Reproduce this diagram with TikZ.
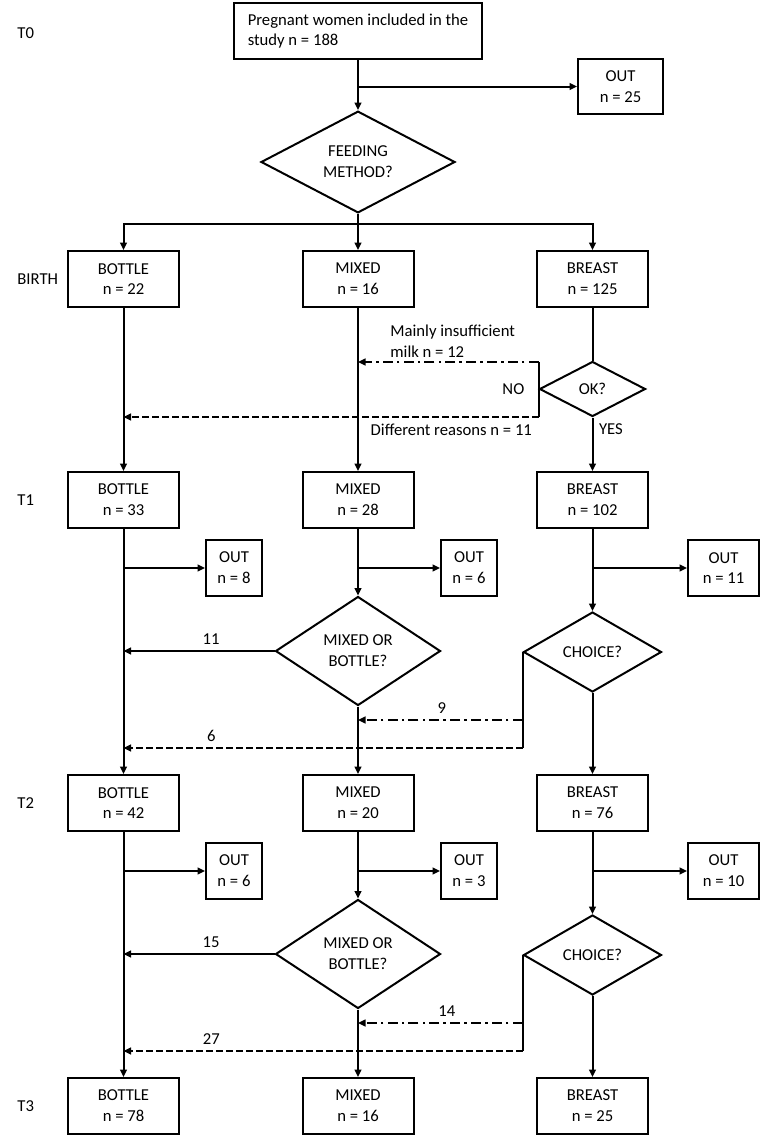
\documentclass[tikz,border=0pt]{standalone}
\usepackage{fontspec}
\setmainfont{Carlito}
\usetikzlibrary{shapes.geometric, arrows.meta, positioning}

\begin{document}
\begin{tikzpicture}[
    x=0.6pt, y=-0.6pt,
    font=\fontsize{10}{12.5}\selectfont,
    box/.style={draw, rectangle, minimum width=66.6pt, minimum height=33.6pt, line width=1.2pt, align=center, inner sep=0pt},
    outbox/.style={box, minimum width=33.6pt},
    widebox/.style={box, minimum width=42.6pt},
    decision/.style={draw, diamond, line width=1.2pt, align=center, inner sep=0pt},
    conn/.style={line width=1.2pt},
    arrow/.style={conn, -{Triangle[length=4.5pt, width=4pt]}},
    dashdotarrow/.style={arrow, dash pattern=on 6pt off 2.5pt on 1.5pt off 2.5pt},
    dasharrow/.style={arrow, dash pattern=on 4pt off 2pt}
]
\useasboundingbox (0,0) rectangle (762,1138);

% time points
\node[anchor=west] (t0) at (11.5,33) {T0};
\node[anchor=west] (tbirth) at (11.5,279) {BIRTH};
\node[anchor=west] (t1) at (11.5,500) {T1};
\node[anchor=west] (t2) at (11.5,803) {T2};
\node[anchor=west] (t3) at (11.5,1106) {T3};

% T0
\node[box, align=left, minimum width=148.8pt] (start) at (358,31) {Pregnant women included in the\\study n = 188};
\node[box, minimum width=51pt, minimum height=33pt] (out0) at (620.5,86.5) {OUT\\n = 25};
\node[decision, minimum width=116.4pt, minimum height=57.6pt] (feed) at (358,162) {FEEDING\\METHOD?};
\coordinate (split) at (358,224);

% birth
\node[box] (bot0) at (123.5,279) {BOTTLE\\n = 22};
\node[box] (mix0) at (358,279) {MIXED\\n = 16};
\node[box] (bre0) at (592.5,279) {BREAST\\n = 125};
\node[decision, minimum width=63.6pt, minimum height=33pt] (ok) at (592.5,389) {OK?};
\node[left=5pt of ok] (no) {NO};
\node[anchor=west, align=left] (lowmilk) at (384.5,341) {Mainly insufficient\\milk n = 12};

% T1
\node[box] (bot1) at (123.5,500) {BOTTLE\\n = 33};
\node[box] (mix1) at (358,500) {MIXED\\n = 28};
\node[box] (bre1) at (592.5,500) {BREAST\\n = 102};
\node[outbox] (out1a) at (234,568) {OUT\\n = 8};
\node[outbox] (out1b) at (469,568) {OUT\\n = 6};
\node[widebox] (out1c) at (723.5,568) {OUT\\n = 11};
\node[decision, minimum width=99pt, minimum height=65.4pt] (dec1) at (358,651) {MIXED OR\\BOTTLE?};
\node[decision, minimum width=82.8pt, minimum height=48pt] (ch1) at (592.5,652) {CHOICE?};

% T2
\node[box] (bot2) at (123.5,803) {BOTTLE\\n = 42};
\node[box] (mix2) at (358,803) {MIXED\\n = 20};
\node[box] (bre2) at (592.5,803) {BREAST\\n = 76};
\node[outbox] (out2a) at (234,871) {OUT\\n = 6};
\node[outbox] (out2b) at (469,871) {OUT\\n = 3};
\node[widebox] (out2c) at (723.5,871) {OUT\\n = 10};
\node[decision, minimum width=99pt, minimum height=65.4pt] (dec2) at (358,954) {MIXED OR\\BOTTLE?};
\node[decision, minimum width=82.8pt, minimum height=48pt] (ch2) at (592.5,955) {CHOICE?};

% T3
\node[box] (bot3) at (123.5,1106) {BOTTLE\\n = 78};
\node[box] (mix3) at (358,1106) {MIXED\\n = 16};
\node[box] (bre3) at (592.5,1106) {BREAST\\n = 25};

% T0 -> birth
\draw[arrow] (start) -- (feed);
\draw[arrow] (start.south |- out0) -- (out0);
\draw[arrow] (feed) -- (mix0);
\draw[arrow] (split) -| (bot0);
\draw[arrow] (split) -| (bre0);

% birth -> T1
\draw[arrow] (bot0) -- (bot1);
\draw[arrow] (mix0) -- (mix1);
\draw[conn] (bre0) -- (ok);
\draw[arrow] (ok) -- node[below right, pos=0] (yes) {YES} (bre1);
\path (ok.west) ++(0,-27) coordinate (noup) ++(0,55) coordinate (nodown);
\draw[conn] (noup) -- (nodown);
\draw[dashdotarrow] (noup) -- (noup -| mix0);
\draw[dasharrow] (nodown) -- node[below left, pos=0] (reasons) {Different reasons n = 11} (nodown -| bot0);

% T1 -> T2
\draw[arrow] (bot1) -- (bot2);
\draw[arrow] (bot1.south |- out1a) -- (out1a);
\draw[arrow] (mix1) -- (dec1);
\draw[arrow] (mix1.south |- out1b) -- (out1b);
\draw[arrow] (dec1) -- (mix2);
\draw[arrow] (dec1.west) -- node[above, pos=0.42] (n11) {11} (dec1.west -| bot1);
\draw[arrow] (bre1) -- (ch1);
\draw[arrow] (bre1.south |- out1c) -- (out1c);
\draw[arrow] (ch1) -- (bre2);
\path (ch1.west) ++(0,68) coordinate (ch1mid) ++(0,28) coordinate (ch1low);
\draw[conn] (ch1.west) -- (ch1low);
\draw[dashdotarrow] (ch1mid) -- node[above, pos=0.49] (n9) {9} (ch1mid -| mix1);
\draw[dasharrow] (ch1low) -- node[above, pos=0.78] (n6) {6} (ch1low -| bot1);

% T2 -> T3
\draw[arrow] (bot2) -- (bot3);
\draw[arrow] (bot2.south |- out2a) -- (out2a);
\draw[arrow] (mix2) -- (dec2);
\draw[arrow] (mix2.south |- out2b) -- (out2b);
\draw[arrow] (dec2) -- (mix3);
\draw[arrow] (dec2.west) -- node[above, pos=0.42] (n15) {15} (dec2.west -| bot2);
\draw[arrow] (bre2) -- (ch2);
\draw[arrow] (bre2.south |- out2c) -- (out2c);
\draw[arrow] (ch2) -- (bre3);
\path (ch2.west) ++(0,68) coordinate (ch2mid) ++(0,28) coordinate (ch2low);
\draw[conn] (ch2.west) -- (ch2low);
\draw[dashdotarrow] (ch2mid) -- node[above, pos=0.46] (n14) {14} (ch2mid -| mix2);
\draw[dasharrow] (ch2low) -- node[above, pos=0.78] (n27) {27} (ch2low -| bot2);
\end{tikzpicture}
\end{document}
